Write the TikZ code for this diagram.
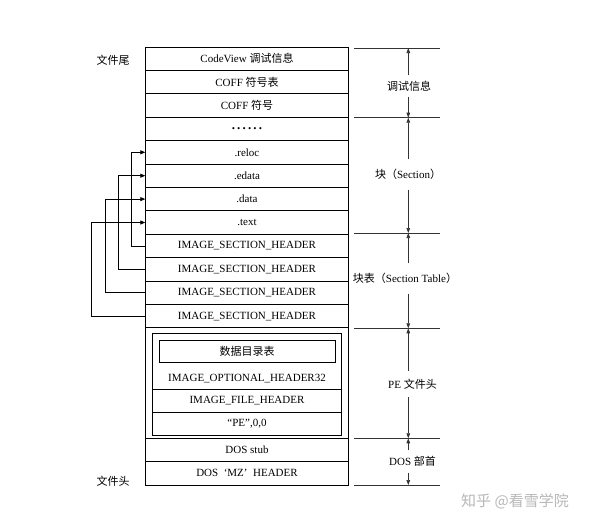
\documentclass[tikz,border=0pt]{standalone}
\usepackage{fontspec}
\setmainfont{Liberation Serif}
\newfontfamily\cjk{Noto Sans CJK SC}
\usetikzlibrary{arrows.meta}
\begin{document}
\begin{tikzpicture}[x=1pt,y=-1pt,
  txt/.style={font=\fontsize{11}{13}\selectfont, inner sep=0pt},
  row/.style={txt, draw, line width=0.8pt, minimum width=202.6pt, minimum height=23.4pt},
  inrow/.style={txt, draw, line width=0.8pt, minimum width=189.4pt},
  conn/.style={line width=0.8pt, -{Triangle[length=5pt,width=4pt]}},
  dim/.style={line width=0.7pt, black!80},
  darr/.style={dim, -{Triangle[length=5pt,width=3.6pt]}},
  lab/.style={txt, inner sep=0pt}
]
\useasboundingbox (0,0) rectangle (594,525);
\fill[white] (0,0) rectangle (594,525);

% main column
\node[row] (r1)  at (247,58.7)  {CodeView {\cjk 调试信息}};
\node[row] (r2)  at (247,82.1)  {COFF {\cjk 符号表}};
\node[row] (r3)  at (247,105.5) {COFF {\cjk 符号}};
\node[row] (r4)  at (247,128.9) {\textbf{\fontsize{13}{13}\selectfont .\,.\,.\,.\,.\,.}};
\node[row] (r5)  at (247,152.3) {.reloc};
\node[row] (r6)  at (247,175.7) {.edata};
\node[row] (r7)  at (247,199.1) {.data};
\node[row] (r8)  at (247,222.5) {.text};
\node[row] (r9)  at (247,245.9) {IMAGE\_SECTION\_HEADER};
\node[row] (r10) at (247,269.3) {IMAGE\_SECTION\_HEADER};
\node[row] (r11) at (247,292.7) {IMAGE\_SECTION\_HEADER};
\node[row] (r12) at (247,316.1) {IMAGE\_SECTION\_HEADER};
\node[row, minimum height=110.5pt] (pe) at (247,383.05) {};
\node[row] (dos1) at (247,450)   {DOS stub};
\node[row, minimum height=23.3pt] (dos2) at (247,473.35) {DOS\ \ ‘MZ’\ \ HEADER};

% PE header inner
\node[inrow, minimum height=56pt] (opt) at (247,361.3) {};
\node[inrow, minimum height=23pt] (fh) at (247,400.8) {IMAGE\_FILE\_HEADER};
\node[inrow, minimum height=23.4pt] (sig) at (247,424) {“PE”,0,0};
\node[txt, draw, line width=0.8pt, minimum width=176pt, minimum height=22.7pt] (dd) at (247,351.35) {{\cjk 数据目录表}};
\node[txt] (ohdr) at (247,379) {IMAGE\_OPTIONAL\_HEADER32};

% left labels
\node[lab] (tail) at (113,60) {{\cjk 文件尾}};
\node[lab] (head) at (113,481.5) {{\cjk 文件头}};

% left connectors
\draw[conn] (r9.west)  -- ++(-13.7,0) |- (r5.west);
\draw[conn] (r10.west) -- ++(-26.7,0) |- (r6.west);
\draw[conn] (r11.west) -- ++(-40.3,0) |- (r7.west);
\draw[conn] (r12.west) -- ++(-53.7,0) |- (r8.west);

% right dimension lines
\coordinate (a0) at (354,48);    \coordinate (b0) at (440,48);    \coordinate (m0) at (408.3,48);
\coordinate (a1) at (354,117.7); \coordinate (b1) at (440,117.7); \coordinate (m1) at (408.3,117.7);
\coordinate (a2) at (354,233);   \coordinate (b2) at (440,233);   \coordinate (m2) at (408.3,233);
\coordinate (a3) at (354,328.3); \coordinate (b3) at (440,328.3); \coordinate (m3) at (408.3,328.3);
\coordinate (a4) at (354,438.3); \coordinate (b4) at (440,438.3); \coordinate (m4) at (408.3,438.3);
\coordinate (a5) at (354,485);   \coordinate (b5) at (440,485);   \coordinate (m5) at (408.3,485);
\foreach \i in {0,...,5} \draw[dim] (a\i) -- (b\i);

\node[lab, minimum height=21pt] (l1) at (409,86) {{\cjk 调试信息}};
\node[lab, minimum height=30pt] (l2) at (408,174.5) {{\cjk 块（}Section{\cjk ）}};
\node[lab, minimum height=30pt] (l3) at (405,278.5) {{\cjk 块表（}Section Table{\cjk ）}};
\node[lab, minimum height=26pt] (l4) at (412.5,384) {PE {\cjk 文件头}};
\node[lab, minimum height=22pt] (l5) at (412.5,461.5) {DOS {\cjk 部首}};

\draw[darr] (l1.north -| m0) -- (m0);
\draw[darr] (l1.south -| m0) -- (m1);
\draw[darr] (l2.north -| m1) -- (m1);
\draw[darr] (l2.south -| m1) -- (m2);
\draw[darr] (l3.north -| m2) -- (m2);
\draw[darr] (l3.south -| m2) -- (m3);
\draw[darr] (l4.north -| m3) -- (m3);
\draw[darr] (l4.south -| m3) -- (m4);
\draw[darr] (l5.north -| m4) -- (m4);
\draw[darr] (l5.south -| m4) -- (m5);

% watermark
\node[lab, text=black!28, font=\cjk\fontsize{15}{18}\selectfont] (wm) at (515,501) {知乎 @看雪学院};
\end{tikzpicture}
\end{document}
